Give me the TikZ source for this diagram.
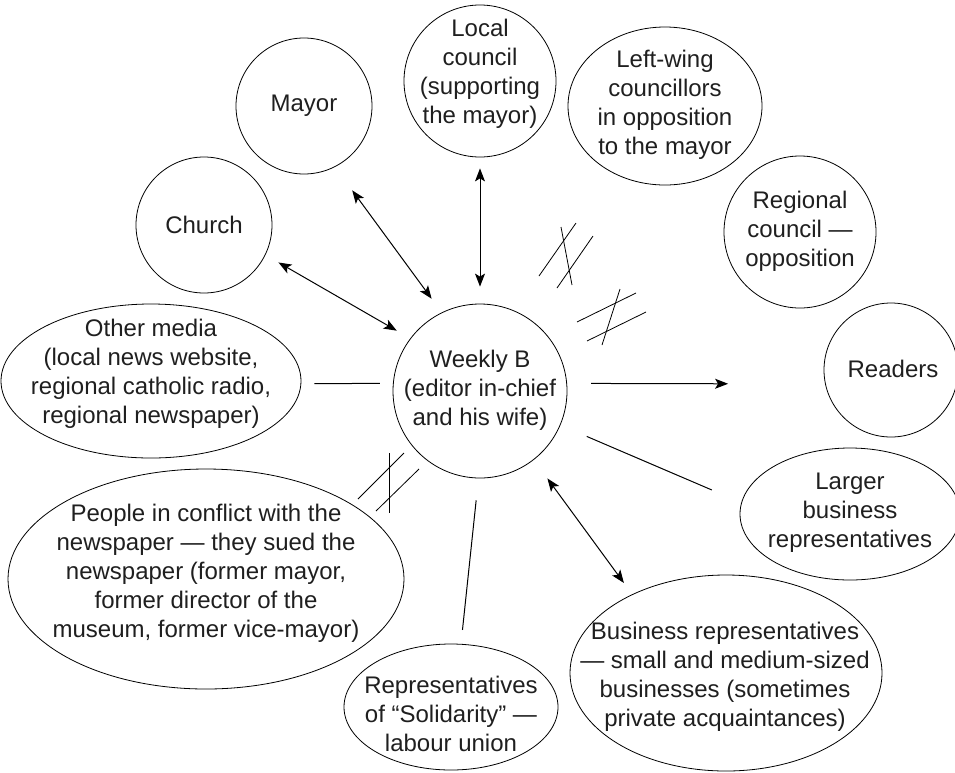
\documentclass[tikz,border=0pt]{standalone}
\usepackage{fontspec}
\setmainfont{Liberation Sans}
\usetikzlibrary{shapes.geometric,positioning,calc}
\usetikzlibrary{arrows.meta}
\tikzstyle{actor} = [circle, draw=black, line width=0.8pt, inner sep=0pt]
\tikzstyle{group} = [ellipse, draw=black, line width=0.8pt, inner sep=0pt]
\tikzstyle{lbl} = [align=center, inner sep=0pt, text=black!88]
\tikzstyle{tie} = [line width=1pt]
\tikzstyle{twoway} = [tie, {Stealth[length=13pt,width=10pt,inset=3pt]}-{Stealth[length=13pt,width=10pt,inset=3pt]}]
\tikzstyle{oneway} = [tie, -{Stealth[length=13pt,width=10pt,inset=3pt]}]
\tikzstyle{breakmark} = [line width=0.8pt]

\begin{document}
\begin{tikzpicture}[x=1pt,y=-1pt,font=\fontsize{24}{29}\selectfont]
\useasboundingbox (0,0) rectangle (955,772);
% centre
\node (weekly) at (480,391) [actor, minimum size=174pt] {};
\node (weekly-t) at (480,390) [lbl] {Weekly B\\(editor in-chief\\and his wife)};
% surrounding actors
\node (mayor) at (304,106) [actor, minimum size=136pt] {};
\node (mayor-t) at (304,106) [lbl] {Mayor};
\node (church) at (204,225) [actor, minimum size=136pt] {};
\node (church-t) at (204,225) [lbl] {Church};
\node (local) at (480,81) [actor, minimum size=152pt] {};
\node (local-t) at (480,74) [lbl] {Local\\council\\(supporting\\the mayor)};
\node (leftwing) at (665,106) [group, minimum width=194pt, minimum height=158pt] {};
\node (leftwing-t) at (665,105) [lbl] {Left-wing\\councillors\\in opposition\\to the mayor};
\node (regional) at (800,232) [actor, minimum size=152pt] {};
\node (regional-t) at (800,231) [lbl] {Regional\\council —\\opposition};
\node (readers) at (891,370) [actor, minimum size=134pt] {};
\node (readers-t) at (893,369) [lbl] {Readers};
\node (media) at (151,381) [group, minimum width=300pt, minimum height=154pt] {};
\node (media-t) at (151,374) [lbl] {Other media\\(local news website,\\regional catholic radio,\\regional newspaper)};
\node (larger) at (850,514) [group, minimum width=220pt, minimum height=132pt] {};
\node (larger-t) at (850,513) [lbl] {Larger\\business\\representatives};
\node (people) at (206,579) [group, minimum width=396pt, minimum height=220pt] {};
\node (people-t) at (206,573) [lbl] {People in conflict with the\\newspaper — they sued the\\newspaper (former mayor,\\former director of the\\museum, former vice-mayor)};
\node (solidarity) at (451,707) [group, minimum width=214pt, minimum height=126pt] {};
\node (solidarity-t) at (451,714) [lbl] {Representatives\\of “Solidarity” —\\labour union};
\node (business) at (726,673) [group, minimum width=312pt, minimum height=196pt] {};
\node (business-t) at (725,677) [lbl] {Business representatives\\— small and medium-sized\\businesses (sometimes\\private acquaintances)};
% relations
\draw[twoway, shorten <=15pt, shorten >=15.5pt] (church.-26.6) -- (weekly.143);
\draw[twoway, shorten <=29pt, shorten >=17pt] (mayor.-63) -- (weekly.116.5);
\draw[twoway, shorten <=11pt, shorten >=17pt] (local.south) -- (weekly.north);
\draw[oneway, shorten <=24pt, shorten >=97pt] (weekly.5.3) -- (readers.-168.8);
\draw[tie, shorten <=28.6pt, shorten >=32pt] (weekly.-23.5) -- (larger.174.5);
\draw[twoway, shorten <=23pt, shorten >=14pt] (weekly.-52) -- (business.140.7);
\draw[tie, shorten <=22pt, shorten >=14pt] (weekly.-91) -- (solidarity.81.4);
\draw[tie, shorten <=13pt, shorten >=13pt] (media.-1.15) -- (weekly.175.4);
% broken relations
\draw[breakmark] (539,276) -- (576,223);
\draw[breakmark] (557,288) -- (593,236);
\draw[breakmark] (561,227) -- (572,285);
\draw[breakmark] (577,322) -- (636,293);
\draw[breakmark] (587,341) -- (646,312);
\draw[breakmark] (620,289) -- (602,345);
\draw[breakmark] (358,499) -- (404,453);
\draw[breakmark] (376,511) -- (419,469);
\draw[breakmark] (389,453) -- (389,513);
\end{tikzpicture}
\end{document}
